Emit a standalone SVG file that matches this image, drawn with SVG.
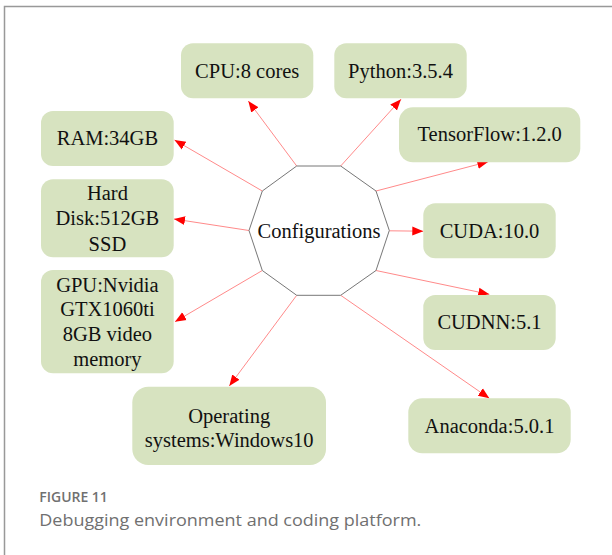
<svg xmlns="http://www.w3.org/2000/svg" width="612" height="555" viewBox="0 0 612 555">
<style>
.box{fill:#d7e3c0;}
.lbl{font-family:"Liberation Serif","Times New Roman",serif;font-size:20.5px;fill:#111;text-anchor:middle;}
.edge{stroke:#ff8a8a;stroke-width:1;fill:none;marker-end:url(#ah);}
.frame{stroke:#999;stroke-width:1.5;fill:none;}
</style>
<defs>
<marker id="ah" markerUnits="userSpaceOnUse" markerWidth="12" markerHeight="12" viewBox="0 0 12 12" refX="11" refY="6" orient="auto">
<path d="M0,1.5 L11,6 L0,10.5 Z" fill="#ff0000"/>
</marker>
</defs>
<rect width="612" height="555" fill="#fff"/>
<path class="frame" d="M4.5,555 L4.5,6.5 L612,6.5"/>
<g id="connectors">
<line class="edge" x1="296.7" y1="166" x2="248.3" y2="101"/>
<line class="edge" x1="340.7" y1="166" x2="401" y2="99.3"/>
<line class="edge" x1="262.3" y1="191" x2="174.5" y2="140"/>
<line class="edge" x1="376" y1="191" x2="488.3" y2="161.7"/>
<line class="edge" x1="249" y1="230.5" x2="174" y2="219"/>
<line class="edge" x1="389.3" y1="230.8" x2="423.3" y2="231.2"/>
<line class="edge" x1="262.3" y1="270.5" x2="175" y2="321.7"/>
<line class="edge" x1="376" y1="270.5" x2="489.3" y2="294.3"/>
<line class="edge" x1="296.7" y1="295.3" x2="229.3" y2="386"/>
<line class="edge" x1="340.7" y1="295.3" x2="489.3" y2="398.3"/>
</g>
<g id="configurations">
<polygon points="296.7,166 340.7,166 376,191 389.3,230.5 376,270.5 340.7,295.3 296.7,295.3 262.3,270.5 249,230.5 262.3,191" fill="#fff" stroke="#777" stroke-width="1"/>
<text class="lbl" x="319" y="237.5">Configurations</text>
</g>
<g id="cpu">
<rect class="box" x="181" y="43.3" width="132.3" height="55" rx="12"/>
<text class="lbl" x="247.2" y="77.7">CPU:8 cores</text>
</g>
<g id="python">
<rect class="box" x="334.3" y="43.3" width="132.4" height="55" rx="12"/>
<text class="lbl" x="400.5" y="77.7">Python:3.5.4</text>
</g>
<g id="ram">
<rect class="box" x="41" y="111" width="132.7" height="55" rx="12"/>
<text class="lbl" x="107.4" y="145.3">RAM:34GB</text>
</g>
<g id="tensorflow">
<rect class="box" x="399" y="107.3" width="181.3" height="55" rx="14"/>
<text class="lbl" x="489.7" y="141.3">TensorFlow:1.2.0</text>
</g>
<g id="harddisk">
<rect class="box" x="41" y="179.3" width="132.7" height="78" rx="12"/>
<text class="lbl" x="107.4" y="200">Hard</text>
<text class="lbl" x="107.4" y="225.3">Disk:512GB</text>
<text class="lbl" x="107.4" y="250.6">SSD</text>
</g>
<g id="cuda">
<rect class="box" x="423.3" y="203.3" width="132.4" height="55" rx="12"/>
<text class="lbl" x="489.5" y="237.7">CUDA:10.0</text>
</g>
<g id="gpu">
<rect class="box" x="41" y="270" width="132.7" height="103.3" rx="12"/>
<text class="lbl" x="107.4" y="291.7">GPU:Nvidia</text>
<text class="lbl" x="107.4" y="316.4">GTX1060ti</text>
<text class="lbl" x="107.4" y="341.3">8GB video</text>
<text class="lbl" x="107.4" y="366">memory</text>
</g>
<g id="cudnn">
<rect class="box" x="423.3" y="295" width="132.4" height="55" rx="12"/>
<text class="lbl" x="489.5" y="329.3">CUDNN:5.1</text>
</g>
<g id="os">
<rect class="box" x="132.3" y="386.7" width="193.7" height="78.3" rx="16"/>
<text class="lbl" x="229.2" y="422.7">Operating</text>
<text class="lbl" x="229.2" y="446.7">systems:Windows10</text>
</g>
<g id="anaconda">
<rect class="box" x="408.3" y="398.3" width="162.4" height="55" rx="14"/>
<text class="lbl" x="489.5" y="433.3">Anaconda:5.0.1</text>
</g>
<text x="39.3" y="501.7" font-family="'Open Sans','Noto Sans',sans-serif" font-size="14.5" font-weight="600" fill="#707070" textLength="68.5" lengthAdjust="spacingAndGlyphs">FIGURE 11</text>
<text x="39.3" y="525.5" font-family="'Open Sans','Noto Sans',sans-serif" font-size="16.5" fill="#707070" textLength="382" lengthAdjust="spacingAndGlyphs">Debugging environment and coding platform.</text>
</svg>
